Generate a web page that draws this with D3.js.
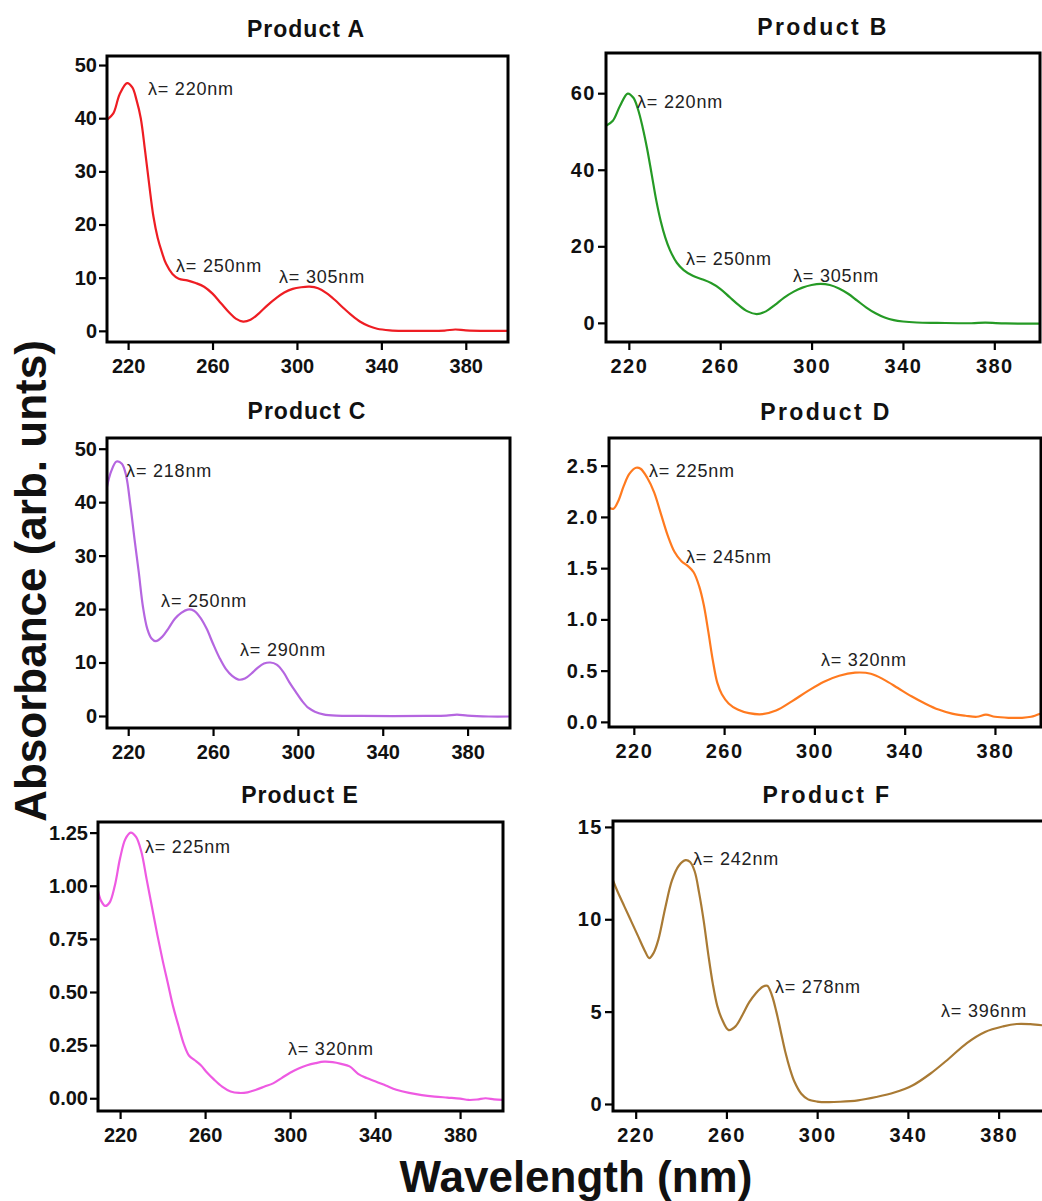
<!DOCTYPE html>
<html>
<head>
<meta charset="utf-8">
<script src="https://cdn.jsdelivr.net/npm/d3@7"></script>
<style>
  html, body { margin: 0; padding: 0; background: #fff; }
  svg { display: block; }
</style>
</head>
<body>
<svg id="chart" width="1042" height="1201"></svg>
<script>
// ---- UV-Vis absorption spectra of six products ----

const wavelengthTicks = [220, 260, 300, 340, 380];
const productNames = ["Product A", "Product B", "Product C", "Product D", "Product E", "Product F"];

// Product A
const wavelengthA = [210, 213, 216, 219.5, 222, 224, 226, 228, 230, 232, 234, 236, 238, 241, 244, 248, 252, 256, 260, 264, 268, 271, 274.5, 278, 282, 286, 290, 294, 298, 302, 306, 310, 314, 318, 322, 326, 330, 334, 338, 344, 350, 360, 370, 375, 380, 390, 400];
const absorbanceA = [39.7, 40.9, 44.5, 46.6, 45.8, 43.4, 40, 34, 27.5, 21.5, 17.5, 14.8, 12.6, 10.7, 9.8, 9.5, 9.0, 8.3, 7.0, 5.2, 3.4, 2.3, 1.75, 2.1, 3.3, 4.8, 6.1, 7.2, 7.9, 8.2, 8.3, 8.0, 7.1, 5.8, 4.3, 2.9, 1.7, 0.9, 0.4, 0.1, 0.0, 0.0, 0.05, 0.25, 0.1, 0.0, 0.0];
const ticksA = [0, 10, 20, 30, 40, 50];
const peakTextA = ["λ= 220nm", "λ= 250nm", "λ= 305nm"];
const peakAtA = [[229.4, 44.4], [242.7, 11.1], [291.5, 9.0]];

// Product B
const wavelengthB = [210, 213, 216, 219.5, 222, 224, 226, 228, 230, 232, 234, 236, 238, 241, 244, 248, 252, 256, 260, 264, 268, 272, 276, 280, 284, 288, 292, 296, 300, 304, 308, 312, 316, 320, 324, 328, 332, 336, 340, 346, 355, 370, 376, 385, 400];
const absorbanceB = [51.5, 52.8, 56.5, 59.9, 58.8, 55.8, 51.2, 45.5, 38.8, 32, 26.5, 22.2, 19, 15.7, 13.8, 12.3, 11.4, 10.4, 8.9, 6.8, 4.7, 3.0, 2.3, 3.0, 4.7, 6.6, 8.1, 9.2, 9.9, 10.2, 9.9, 9.0, 7.6, 5.8, 4.0, 2.5, 1.4, 0.7, 0.35, 0.1, 0.0, -0.1, 0.05, -0.15, -0.2];
const ticksB = [0, 20, 40, 60];
const peakTextB = ["λ= 220nm", "λ= 250nm", "λ= 305nm"];
const peakAtB = [[223.6, 56.1], [245.0, 15.1], [291.9, 10.7]];

// Product C
const wavelengthC = [210, 212, 214.5, 217, 219, 221, 223, 225, 227, 229, 231, 233, 236, 239, 242, 245, 248, 251, 254, 257, 260, 263, 266, 269, 272, 275, 278, 281, 284, 287, 290, 293, 296, 299, 302, 305, 308, 312, 318, 330, 360, 370, 375, 380, 390, 400];
const absorbanceC = [42.9, 45.8, 47.6, 47.2, 45, 39.5, 33, 26.8, 20.3, 16.3, 14.5, 14.0, 14.8, 16.4, 18.2, 19.3, 19.9, 19.7, 18.4, 16.3, 13.5, 10.9, 8.8, 7.5, 6.8, 7.0, 7.9, 9.0, 9.8, 10.0, 9.6, 8.3, 6.3, 4.5, 2.8, 1.5, 0.8, 0.3, 0.05, 0.0, 0.0, 0.05, 0.25, 0.05, -0.1, -0.1];
const ticksC = [0, 10, 20, 30, 40, 50];
const peakTextC = ["λ= 218nm", "λ= 250nm", "λ= 290nm"];
const peakAtC = [[219.0, 44.7], [235.5, 20.4], [272.7, 11.2]];

// Product D
const wavelengthD = [209, 211, 213, 215.5, 218, 221, 223, 226, 229, 232, 235, 238, 241, 244, 246.5, 249, 251, 253, 255, 257, 259, 262, 266, 271, 277, 283, 290, 297, 304, 311, 318, 325, 331, 337, 343, 349, 355, 361, 367, 372, 376, 380, 386, 392, 396, 400];
const absorbanceD = [2.09, 2.08, 2.15, 2.30, 2.42, 2.48, 2.47, 2.38, 2.24, 2.03, 1.82, 1.66, 1.57, 1.52, 1.46, 1.32, 1.14, 0.88, 0.6, 0.38, 0.27, 0.18, 0.12, 0.085, 0.075, 0.11, 0.2, 0.3, 0.39, 0.45, 0.48, 0.47, 0.41, 0.33, 0.25, 0.18, 0.12, 0.08, 0.06, 0.05, 0.07, 0.05, 0.04, 0.04, 0.05, 0.08];
const ticksD = [0, 0.5, 1.0, 1.5, 2.0, 2.5];
const peakTextD = ["λ= 225nm", "λ= 245nm", "λ= 320nm"];
const peakAtD = [[226.7, 2.39], [243.1, 1.55], [302.9, 0.545]];

// Product E
const wavelengthE = [209.6, 211, 213, 215, 217.5, 220, 222.5, 225, 227.5, 230, 232.5, 235, 237.5, 240, 242.5, 245, 247.5, 250, 252.5, 255, 258, 261, 264, 268, 272, 276, 280, 284, 288, 292, 296, 300, 304, 308, 312, 316, 320, 324, 328, 332, 336, 340, 345, 350, 356, 362, 368, 374, 380, 384, 388, 392, 396, 400];
const absorbanceE = [0.975, 0.93, 0.905, 0.92, 1.0, 1.13, 1.22, 1.25, 1.23, 1.16, 1.03, 0.9, 0.77, 0.65, 0.54, 0.43, 0.34, 0.255, 0.2, 0.18, 0.155, 0.12, 0.09, 0.055, 0.032, 0.025, 0.028, 0.04, 0.055, 0.07, 0.095, 0.12, 0.14, 0.155, 0.165, 0.172, 0.17, 0.162, 0.15, 0.115, 0.095, 0.08, 0.06, 0.04, 0.025, 0.015, 0.008, 0.003, -0.002, -0.008, -0.006, 0.0, -0.005, -0.008];
const ticksE = [0, 0.25, 0.5, 0.75, 1.0, 1.25];
const peakTextE = ["λ= 225nm", "λ= 320nm"];
const peakAtE = [[231.7, 1.154], [299.0, 0.204]];

// Product F
const wavelengthF = [210, 212, 215, 218, 221, 224, 226, 228, 230, 233, 236, 239, 242, 244, 246, 248, 250, 252, 254, 256, 258, 261, 264, 267, 270, 273, 276, 278, 280, 282, 284, 286, 288, 290, 293, 296, 300, 305, 310, 318, 326, 334, 342, 350, 358, 366, 374, 382, 388, 394, 400];
const absorbanceF = [12.1, 11.5, 10.7, 9.9, 9.1, 8.3, 7.9, 8.2, 8.9, 10.6, 12.1, 12.9, 13.2, 13.1, 12.6, 11.4, 9.9, 8.1, 6.5, 5.3, 4.6, 4.0, 4.2, 4.8, 5.5, 6.0, 6.35, 6.4, 5.9, 5.0, 3.9, 2.8, 1.9, 1.2, 0.55, 0.25, 0.13, 0.1, 0.12, 0.2, 0.38, 0.62, 1.0, 1.65, 2.45, 3.3, 3.9, 4.2, 4.33, 4.32, 4.25];
const ticksF = [0, 5, 10, 15];
const peakTextF = ["λ= 242nm", "λ= 278nm", "λ= 396nm"];
const peakAtF = [[245.3, 12.94], [281.4, 6.01], [354.6, 4.71]];

// ---- panel layout ----
const panels = [
  { name: productNames[0], wl: wavelengthA, ab: absorbanceA, yt: ticksA, pt: peakTextA, pa: peakAtA, fmt: "d",
    color: "#ee1d23", box: [107, 508, 56, 342], xd: [210, 400], yd: [-2.1, 51.7], col: 0, titleX: 306, titleY: 37 },
  { name: productNames[1], wl: wavelengthB, ab: absorbanceB, yt: ticksB, pt: peakTextB, pa: peakAtB, fmt: "d",
    color: "#259a25", box: [606, 1040, 53, 342], xd: [210, 400], yd: [-5, 70.5], col: 1, titleX: 823, titleY: 35 },
  { name: productNames[2], wl: wavelengthC, ab: absorbanceC, yt: ticksC, pt: peakTextC, pa: peakAtC, fmt: "d",
    color: "#b566e0", box: [107, 510, 438, 728], xd: [210, 400], yd: [-2.25, 52], col: 0, titleX: 307, titleY: 419 },
  { name: productNames[3], wl: wavelengthD, ab: absorbanceD, yt: ticksD, pt: peakTextD, pa: peakAtD, fmt: ".1f",
    color: "#ff7a1f", box: [609, 1041, 438, 727], xd: [209, 400.4], yd: [-0.05, 2.77], col: 1, titleX: 826, titleY: 420 },
  { name: productNames[4], wl: wavelengthE, ab: absorbanceE, yt: ticksE, pt: peakTextE, pa: peakAtE, fmt: ".2f",
    color: "#ee5ae2", box: [98, 503, 822, 1111], xd: [209.6, 400.2], yd: [-0.06, 1.30], col: 0, titleX: 300, titleY: 803 },
  { name: productNames[5], wl: wavelengthF, ab: absorbanceF, yt: ticksF, pt: peakTextF, pa: peakAtF, fmt: "d",
    color: "#a97a34", box: [613, 1044, 821, 1111], xd: [210, 400], yd: [-0.38, 15.32], col: 1, titleX: 827, titleY: 803 }
];

const svg = d3.select("#chart");
const FONT = "'Liberation Sans', Arial, Helvetica, sans-serif";

panels.forEach((p, i) => {
  const [left, right, top, bottom] = p.box;
  const x = d3.scaleLinear().domain(p.xd).range([left, right]);
  const y = d3.scaleLinear().domain(p.yd).range([bottom, top]);
  const spacing = p.col === 1 ? 1.5 : 0;
  const g = svg.append("g").attr("class", "panel");

  // clip the spectrum to the plotting box
  const clipId = "clip" + i;
  svg.append("clipPath").attr("id", clipId)
    .append("rect").attr("x", left).attr("y", top)
    .attr("width", right - left).attr("height", bottom - top);

  // bottom axis
  const xAxis = g.append("g")
    .attr("transform", `translate(0,${bottom})`)
    .call(d3.axisBottom(x).tickValues(wavelengthTicks).tickSize(8).tickPadding(9).tickFormat(d3.format("d")));
  // left axis
  const yAxis = g.append("g")
    .attr("transform", `translate(${left},0)`)
    .call(d3.axisLeft(y).tickValues(p.yt).tickSize(8).tickPadding(2).tickFormat(d3.format(p.fmt)));

  [xAxis, yAxis].forEach(ax => {
    ax.select(".domain").remove();
    ax.selectAll(".tick line").attr("stroke", "#000").attr("stroke-width", 2.2);
    ax.selectAll(".tick text")
      .attr("fill", "#111")
      .style("font-family", FONT)
      .style("font-weight", "bold")
      .style("font-size", "20px")
      .style("letter-spacing", spacing + "px");
  });

  // spectrum
  const pts = p.wl.map((w, k) => [w, p.ab[k]]);
  const line = d3.line().x(d => x(d[0])).y(d => y(d[1])).curve(d3.curveCatmullRom.alpha(0.5));
  g.append("path")
    .datum(pts)
    .attr("clip-path", `url(#${clipId})`)
    .attr("fill", "none")
    .attr("stroke", p.color)
    .attr("stroke-width", 2.2)
    .attr("stroke-linejoin", "round")
    .attr("d", line);

  // frame
  g.append("rect")
    .attr("x", left).attr("y", top)
    .attr("width", right - left).attr("height", bottom - top)
    .attr("fill", "none").attr("stroke", "#000").attr("stroke-width", 3);

  // peak annotations
  g.selectAll("text.peak")
    .data(p.pt)
    .join("text")
    .attr("class", "peak")
    .attr("x", (t, k) => x(p.pa[k][0]))
    .attr("y", (t, k) => y(p.pa[k][1]))
    .attr("fill", "#222")
    .style("font-family", FONT)
    .style("font-size", "18px")
    .style("letter-spacing", "0.8px")
    .text(t => t);

  // panel title
  g.append("text")
    .attr("x", p.titleX).attr("y", p.titleY)
    .attr("text-anchor", "middle")
    .attr("fill", "#111")
    .style("font-family", FONT)
    .style("font-weight", "bold")
    .style("font-size", "23px")
    .style("letter-spacing", (p.col === 1 ? 2.4 : 1) + "px")
    .text(p.name);
});

// shared axis titles
svg.append("text")
  .attr("transform", "translate(46,581) rotate(-90)")
  .attr("text-anchor", "middle")
  .attr("fill", "#111")
  .style("font-family", FONT)
  .style("font-weight", "bold")
  .style("font-size", "44px")
  .text("Absorbance (arb. unts)");

svg.append("text")
  .attr("x", 576).attr("y", 1192)
  .attr("text-anchor", "middle")
  .attr("fill", "#111")
  .style("font-family", FONT)
  .style("font-weight", "bold")
  .style("font-size", "44px")
  .text("Wavelength (nm)");
</script>
</body>
</html>
